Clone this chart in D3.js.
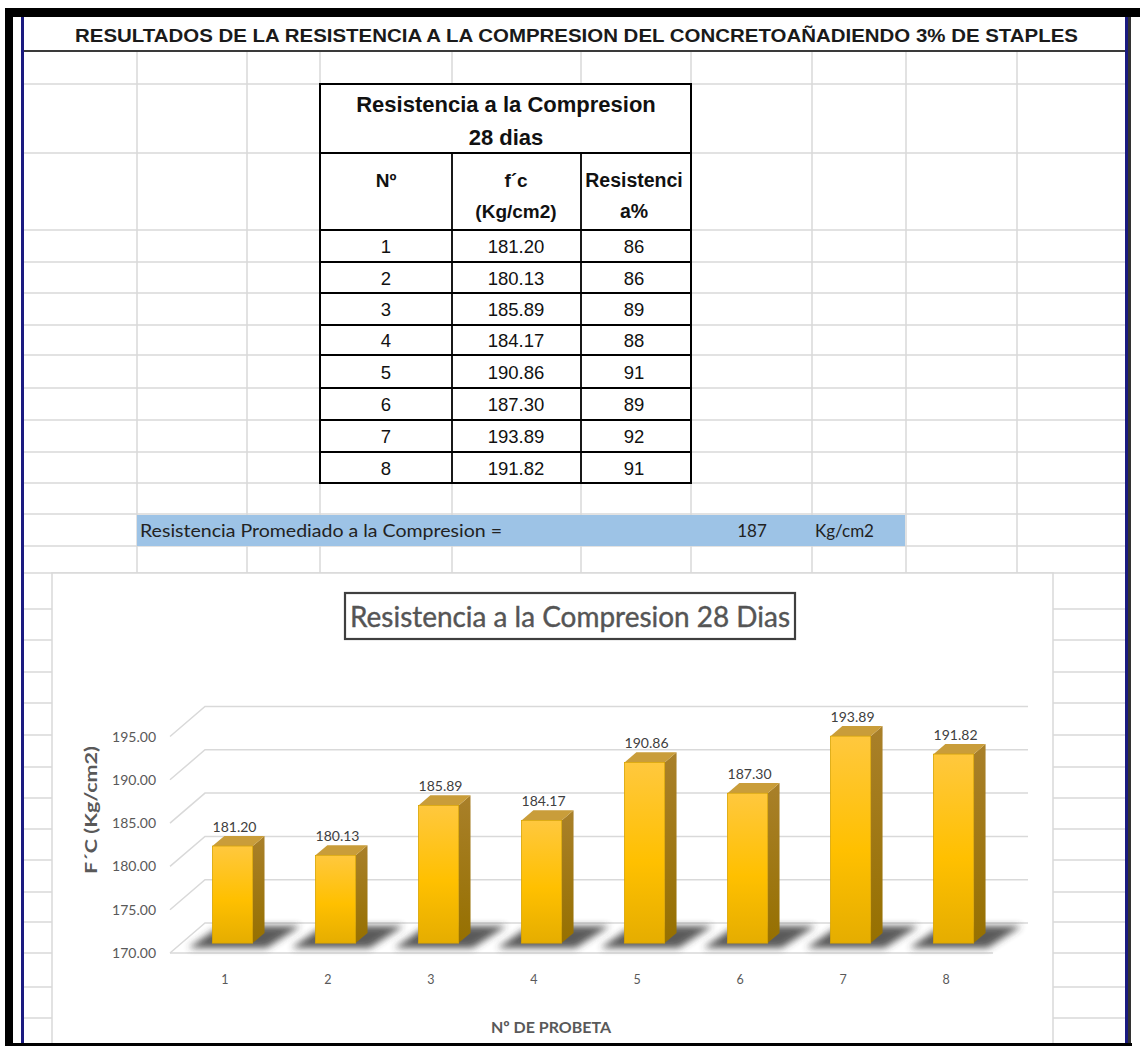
<!DOCTYPE html>
<html>
<head>
<meta charset="utf-8">
<script src="https://cdn.jsdelivr.net/npm/d3@7"></script>
<style>
  body { margin: 0; background: #fff; }
  svg { display: block; }
</style>
</head>
<body>
<div id="sheet"></div>
<script>
// table + chart data
var probetas = ["1", "2", "3", "4", "5", "6", "7", "8"];
var fcValues = [181.20, 180.13, 185.89, 184.17, 190.86, 187.30, 193.89, 191.82];
var resistPct = [86, 86, 89, 88, 91, 89, 92, 91];
var yTicks = [170, 175, 180, 185, 190, 195];
var promedio = 187;

var sheetTitle = "RESULTADOS DE LA RESISTENCIA A LA COMPRESION DEL CONCRETOAÑADIENDO 3% DE STAPLES";
var chartTitle = "Resistencia a la Compresion 28 Dias";

const W = 1145, H = 1046;
var svg = d3.select("#sheet").append("svg")
    .attr("width", W)
    .attr("height", H);

var defs = svg.append("defs");
var gFront = defs.append("linearGradient").attr("id", "barFront")
    .attr("x1", 0).attr("y1", 0).attr("x2", 0).attr("y2", 1);
gFront.append("stop").attr("offset", "0%").attr("stop-color", "#ffc83e");
gFront.append("stop").attr("offset", "55%").attr("stop-color", "#ffc000");
gFront.append("stop").attr("offset", "100%").attr("stop-color", "#e5ad00");
var gSide = defs.append("linearGradient").attr("id", "barSide")
    .attr("x1", 0).attr("y1", 0).attr("x2", 0).attr("y2", 1);
gSide.append("stop").attr("offset", "0%").attr("stop-color", "#a9802a");
gSide.append("stop").attr("offset", "100%").attr("stop-color", "#967000");
defs.append("filter").attr("id", "blur")
    .attr("x", "-30%").attr("y", "-60%").attr("width", "160%").attr("height", "220%")
    .append("feGaussianBlur").attr("stdDeviation", 3.5);

// spreadsheet grid
var rowLines = [51, 84, 153, 230, 262, 293, 325, 355, 388, 420, 452, 483, 514, 546, 573];
var rowLinesLow = [609, 640, 672, 703, 735, 767, 798, 829, 860, 892, 922, 953, 987, 1018];
var colLines = [137, 247, 320, 452, 581, 691, 812, 906, 1017];
var grid = svg.append("g").attr("stroke", "#d9d9d9").attr("stroke-width", 1.5);

grid.selectAll(".row").data(rowLines).enter().append("line")
    .attr("x1", 24).attr("x2", 1127)
    .attr("y1", d => d).attr("y2", d => d);
grid.selectAll(".col").data(colLines).enter().append("line")
    .attr("x1", d => d).attr("x2", d => d)
    .attr("y1", 51).attr("y2", 575);
grid.selectAll(".rowlow").data(rowLinesLow).enter().append("line")
    .attr("x1", 24).attr("x2", 1127)
    .attr("y1", d => d).attr("y2", d => d);

// title row
svg.append("rect").attr("x", 24).attr("y", 17).attr("width", 1103).attr("height", 34).attr("fill", "#fff");
svg.append("line").attr("x1", 24).attr("x2", 1127).attr("y1", 51).attr("y2", 51)
    .attr("stroke", "#3a3a3a").attr("stroke-width", 2);
svg.append("text")
    .attr("x", 75).attr("y", 42)
    .attr("textLength", 1003).attr("lengthAdjust", "spacingAndGlyphs")
    .style("font-family", "'Liberation Sans Narrow', 'Liberation Sans', Arial, sans-serif")
    .style("font-weight", "bold").style("font-size", "19px").style("fill", "#1a1a1a")
    .text(sheetTitle);

// results table
var tbl = svg.append("g");
var colX = [320, 452, 581, 691];
var rowY = [230, 262, 293, 325, 355, 388, 420, 452, 483];
tbl.append("rect").attr("x", 320).attr("y", 84).attr("width", 371).attr("height", 399)
    .attr("fill", "#fff").attr("stroke", "#000").attr("stroke-width", 2);
tbl.append("line").attr("x1", 320).attr("x2", 691).attr("y1", 153).attr("y2", 153)
    .attr("stroke", "#000").attr("stroke-width", 2);
tbl.selectAll(".hr").data(rowY.slice(0, -1)).enter().append("line")
    .attr("x1", 320).attr("x2", 691).attr("y1", d => d).attr("y2", d => d)
    .attr("stroke", "#000").attr("stroke-width", 1.8);
tbl.selectAll(".vr").data(colX.slice(1, 3)).enter().append("line")
    .attr("x1", d => d).attr("x2", d => d).attr("y1", 153).attr("y2", 483)
    .attr("stroke", "#000").attr("stroke-width", 1.8);

var arialB = "'Liberation Sans', Arial, sans-serif";
function tText(x, y, s, size, bold) {
    tbl.append("text").attr("x", x).attr("y", y).attr("text-anchor", "middle")
        .style("font-family", arialB).style("font-size", size + "px")
        .style("font-weight", bold ? "bold" : "normal").style("fill", "#111")
        .text(s);
}
tText(506, 112, "Resistencia a la Compresion", 22, true);
tText(506, 145, "28 dias", 22, true);
tText(386, 187, "Nº", 19, true);
tText(516, 187, "f´c", 19, true);
tText(516, 218, "(Kg/cm2)", 19, true);
tText(634, 187, "Resistenci", 19.5, true);
tText(634, 218, "a%", 19.5, true);

probetas.forEach(function(p, i) {
    var cy = (rowY[i] + rowY[i + 1]) / 2 + 7;
    tText(386, cy, p, 18.5, false);
    tText(516, cy, fcValues[i].toFixed(2), 18.5, false);
    tText(634, cy, resistPct[i], 18.5, false);
});

// average row
svg.append("rect").attr("x", 137).attr("y", 515).attr("width", 768).attr("height", 31).attr("fill", "#9dc3e6");
var lato = "Lato, 'Open Sans', sans-serif";
svg.append("text").attr("x", 140).attr("y", 537)
    .attr("textLength", 362).attr("lengthAdjust", "spacingAndGlyphs")
    .style("font-family", lato).style("font-size", "17px").style("fill", "#222")
    .text("Resistencia Promediado a la Compresion  =");
svg.append("text").attr("x", 752).attr("y", 537).attr("text-anchor", "middle")
    .style("font-family", lato).style("font-size", "17px").style("fill", "#222")
    .text(promedio);
svg.append("text").attr("x", 815).attr("y", 537)
    .style("font-family", lato).style("font-size", "17px").style("fill", "#222")
    .text("Kg/cm2");

// chart area
svg.append("rect").attr("x", 52).attr("y", 573).attr("width", 1001).attr("height", 480)
    .attr("fill", "#fff").attr("stroke", "#d9d9d9").attr("stroke-width", 1.5);

var cg = svg.append("g");
cg.append("rect").attr("x", 345).attr("y", 593).attr("width", 450).attr("height", 46)
    .attr("fill", "#fff").attr("stroke", "#3f3f3f").attr("stroke-width", 2.2);
cg.append("text").attr("x", 350).attr("y", 627)
    .attr("textLength", 440).attr("lengthAdjust", "spacingAndGlyphs")
    .style("font-family", lato).style("font-size", "29px").style("fill", "#555")
    .style("stroke", "#555").style("stroke-width", 0.4)
    .text(chartTitle);

// 3d projection: depth 0 = front, 1 = back
const DX = 35, DY = -30;
var x = d3.scaleBand().domain(probetas).range([170, 993]).paddingInner(0.61).paddingOuter(0.3);
var y = d3.scaleLinear().domain([170, 195]).range([953, 736.5]);
function px(xv, d) { return xv + DX * d; }
function py(yv, d) { return yv + DY * d; }

// walls and floor gridlines
var wall = cg.append("g").attr("stroke", "#d9d9d9").attr("stroke-width", 1.5).attr("fill", "none");
wall.selectAll(".gl").data(yTicks).enter().append("path")
    .attr("d", d => "M170," + y(d) + "L" + px(170, 1) + "," + py(y(d), 1) + "L" + px(993, 1) + "," + py(y(d), 1));
wall.append("line").attr("x1", 170).attr("x2", 993).attr("y1", y(170)).attr("y2", y(170));

// y ticks
cg.selectAll(".ytick").data(yTicks).enter().append("text")
    .attr("x", 156).attr("y", d => y(d) + 5).attr("text-anchor", "end")
    .style("font-family", lato).style("font-size", "14px").style("fill", "#595959")
    .text(d => d.toFixed(2));

// bars
const d0 = 0.33, d1 = 0.67;
var bars = cg.selectAll(".bar").data(probetas).enter().append("g");

bars.append("path")
    .attr("d", function(p) {
        var xl = px(x(p), d0), yb = py(y(170), d0);
        return "M" + (xl - 24) + "," + (yb + 5) + "L" + (xl + 54) + "," + (yb + 5) +
            "L" + (xl + 88) + "," + (yb - 17) + "L" + (xl + 8) + "," + (yb - 17) + "Z";
    })
    .attr("fill", "#333").attr("opacity", 0.8).attr("filter", "url(#blur)");

bars.append("path")
    .attr("d", function(p, i) {
        var xr = px(x(p) + x.bandwidth(), d0), yt = py(y(fcValues[i]), d0), yb = py(y(170), d0);
        var ddx = DX * (d1 - d0), ddy = DY * (d1 - d0);
        return "M" + xr + "," + yt + "L" + (xr + ddx) + "," + (yt + ddy) + "L" + (xr + ddx) + "," + (yb + ddy) + "L" + xr + "," + yb + "Z";
    })
    .attr("fill", "url(#barSide)");
bars.append("path")
    .attr("d", function(p, i) {
        var xl = px(x(p), d0), xr = xl + x.bandwidth(), yt = py(y(fcValues[i]), d0);
        var ddx = DX * (d1 - d0), ddy = DY * (d1 - d0);
        return "M" + xl + "," + yt + "L" + xr + "," + yt + "L" + (xr + ddx) + "," + (yt + ddy) + "L" + (xl + ddx) + "," + (yt + ddy) + "Z";
    })
    .attr("fill", "#c99d3a");
bars.append("rect")
    .attr("x", p => px(x(p), d0))
    .attr("y", (p, i) => py(y(fcValues[i]), d0))
    .attr("width", x.bandwidth())
    .attr("height", (p, i) => y(170) - y(fcValues[i]))
    .attr("fill", "url(#barFront)").attr("stroke", "#d9a400").attr("stroke-width", 0.8);

// data labels
bars.append("text")
    .attr("x", p => px(x(p) + x.bandwidth() / 2, d0) + 2)
    .attr("y", (p, i) => py(y(fcValues[i]), d1) - 4)
    .attr("text-anchor", "middle")
    .style("font-family", lato).style("font-size", "14px").style("fill", "#404040")
    .text((p, i) => fcValues[i].toFixed(2));

// x ticks
cg.selectAll(".xtick").data(probetas).enter().append("text")
    .attr("x", p => x(p) + x.bandwidth() / 2 + 4).attr("y", 984)
    .attr("text-anchor", "middle")
    .style("font-family", lato).style("font-size", "12.5px").style("fill", "#595959")
    .text(p => p);

// axis titles
cg.append("text").attr("transform", "translate(97,810) rotate(-90)")
    .attr("text-anchor", "middle")
    .attr("textLength", 128).attr("lengthAdjust", "spacingAndGlyphs")
    .style("font-family", lato).style("font-size", "17px").style("font-weight", "bold").style("fill", "#595959")
    .text("F´C (Kg/cm2)");
cg.append("text").attr("x", 551).attr("y", 1033).attr("text-anchor", "middle")
    .style("font-family", lato).style("font-size", "16px").style("font-weight", "bold").style("fill", "#595959")
    .text("Nº DE PROBETA");

// outer frame
var frame = svg.append("g");
frame.append("rect").attr("x", 5).attr("y", 8).attr("width", 1135).attr("height", 9).attr("fill", "#000");
frame.append("rect").attr("x", 5).attr("y", 8).attr("width", 8).attr("height", 1038).attr("fill", "#000");
frame.append("rect").attr("x", 21).attr("y", 17).attr("width", 3).attr("height", 1029).attr("fill", "#1a1a80");
frame.append("rect").attr("x", 1125).attr("y", 17).attr("width", 3).attr("height", 1029).attr("fill", "#1a1a80");
frame.append("rect").attr("x", 1128).attr("y", 17).attr("width", 3).attr("height", 1029).attr("fill", "#333");
frame.append("rect").attr("x", 5).attr("y", 1043).attr("width", 1127).attr("height", 3).attr("fill", "#000");
</script>
</body>
</html>
